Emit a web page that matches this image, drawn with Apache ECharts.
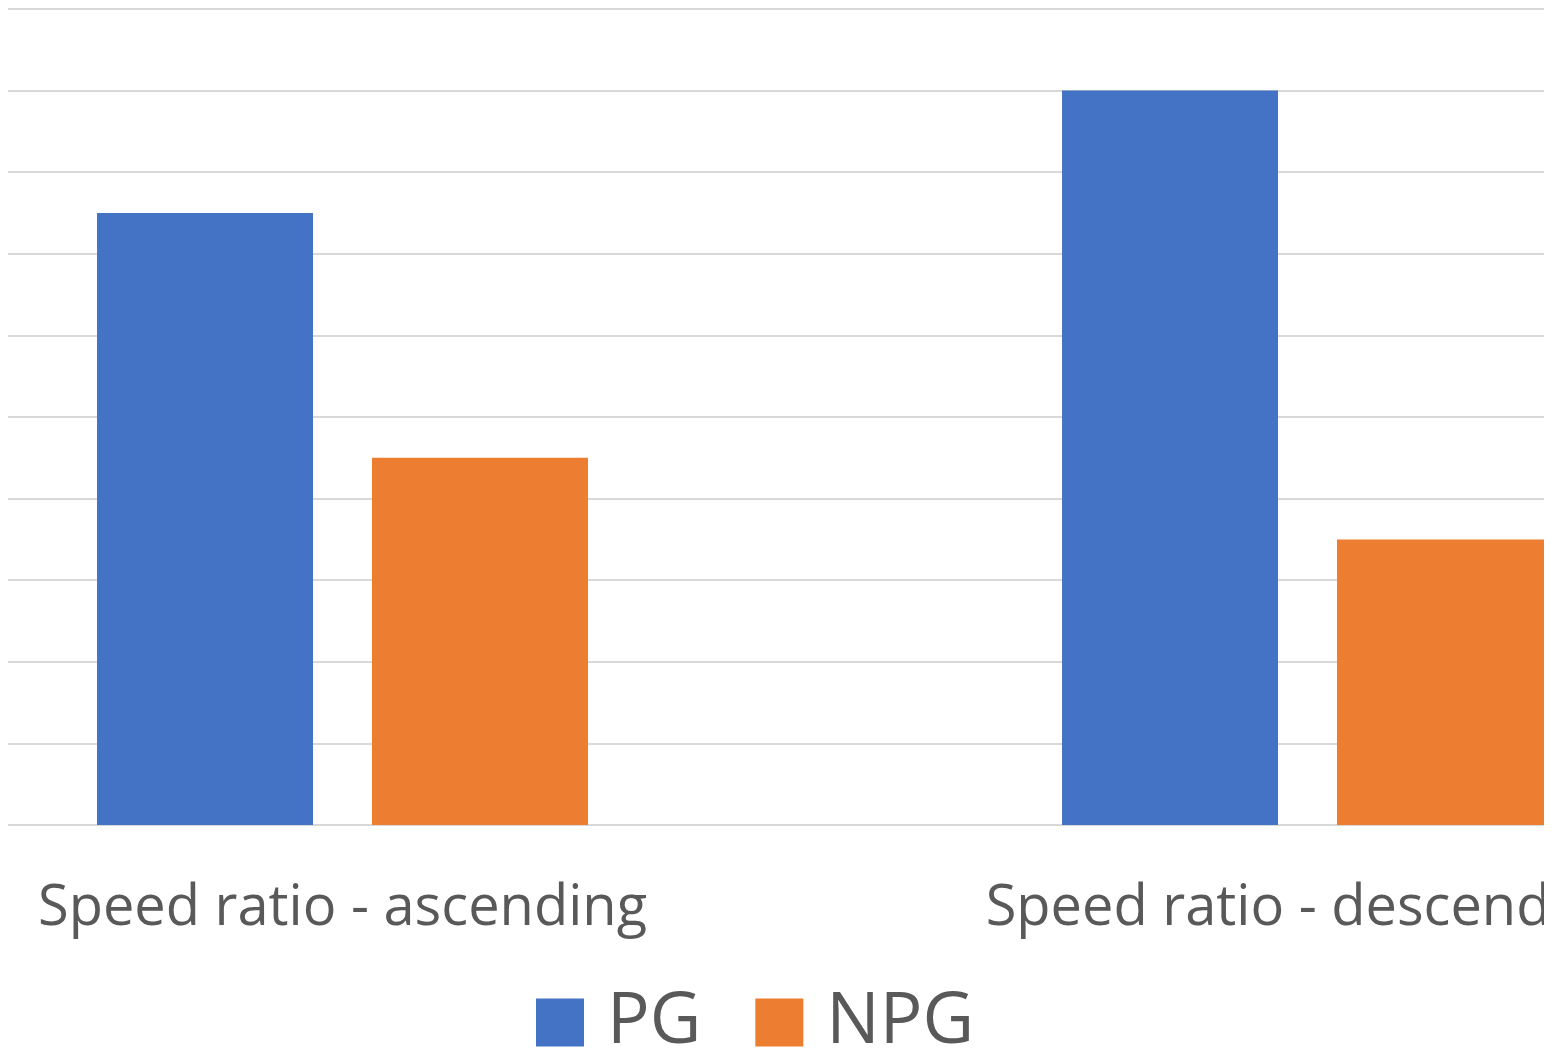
<!DOCTYPE html>
<html>
<head>
<meta charset="utf-8">
<script src="https://cdn.jsdelivr.net/npm/echarts@6/dist/echarts.min.js"></script>
<style>
html,body{margin:0;padding:0;background:#fff;width:1562px;height:1052px;overflow:hidden;}
#clip{position:absolute;left:8px;top:0;width:1536px;height:1052px;overflow:hidden;}
#c{position:absolute;left:-148px;top:0;width:1930px;height:1052px;}
</style>
</head>
<body>
<div id="clip"><div id="c"></div></div>
<script>
const categories = ['Speed ratio - ascending', 'Speed ratio - descending'];
const pgValues = [7.5, 9.0];
const npgValues = [4.5, 3.5];
const seriesNames = ['PG', 'NPG'];

const chart = echarts.init(document.getElementById('c'), null, {renderer: 'canvas'});
const font = '"Open Sans", "Noto Sans", sans-serif';
chart.setOption({
  animation: false,
  backgroundColor: '#ffffff',
  grid: {left: 0, right: 0, top: 9, height: 816, containLabel: false},
  legend: {
    data: seriesNames,
    left: 671, top: 982,
    itemWidth: 48, itemHeight: 48, itemGap: 54,
    icon: 'rect',
    textStyle: {fontFamily: font, fontSize: 71, color: '#595959', padding: [0, 0, 0, 18], lineHeight: 60}
  },
  xAxis: {
    type: 'category',
    data: categories,
    axisLine: {show: false},
    axisTick: {show: false},
    axisLabel: {fontFamily: font, fontSize: 56, color: '#595959', margin: 56, interval: 0}
  },
  yAxis: {
    type: 'value',
    min: 0, max: 10, interval: 1,
    axisLabel: {show: false},
    axisLine: {show: false},
    axisTick: {show: false},
    splitLine: {lineStyle: {color: '#d9d9d9', width: 2}}
  },
  series: [
    {name: 'PG', type: 'bar', data: pgValues, barWidth: 216, barGap: '27.3%', itemStyle: {color: '#4472C4'}},
    {name: 'NPG', type: 'bar', data: npgValues, barWidth: 216, barGap: '27.3%', itemStyle: {color: '#ED7D31'}}
  ]
});
</script>
</body>
</html>
